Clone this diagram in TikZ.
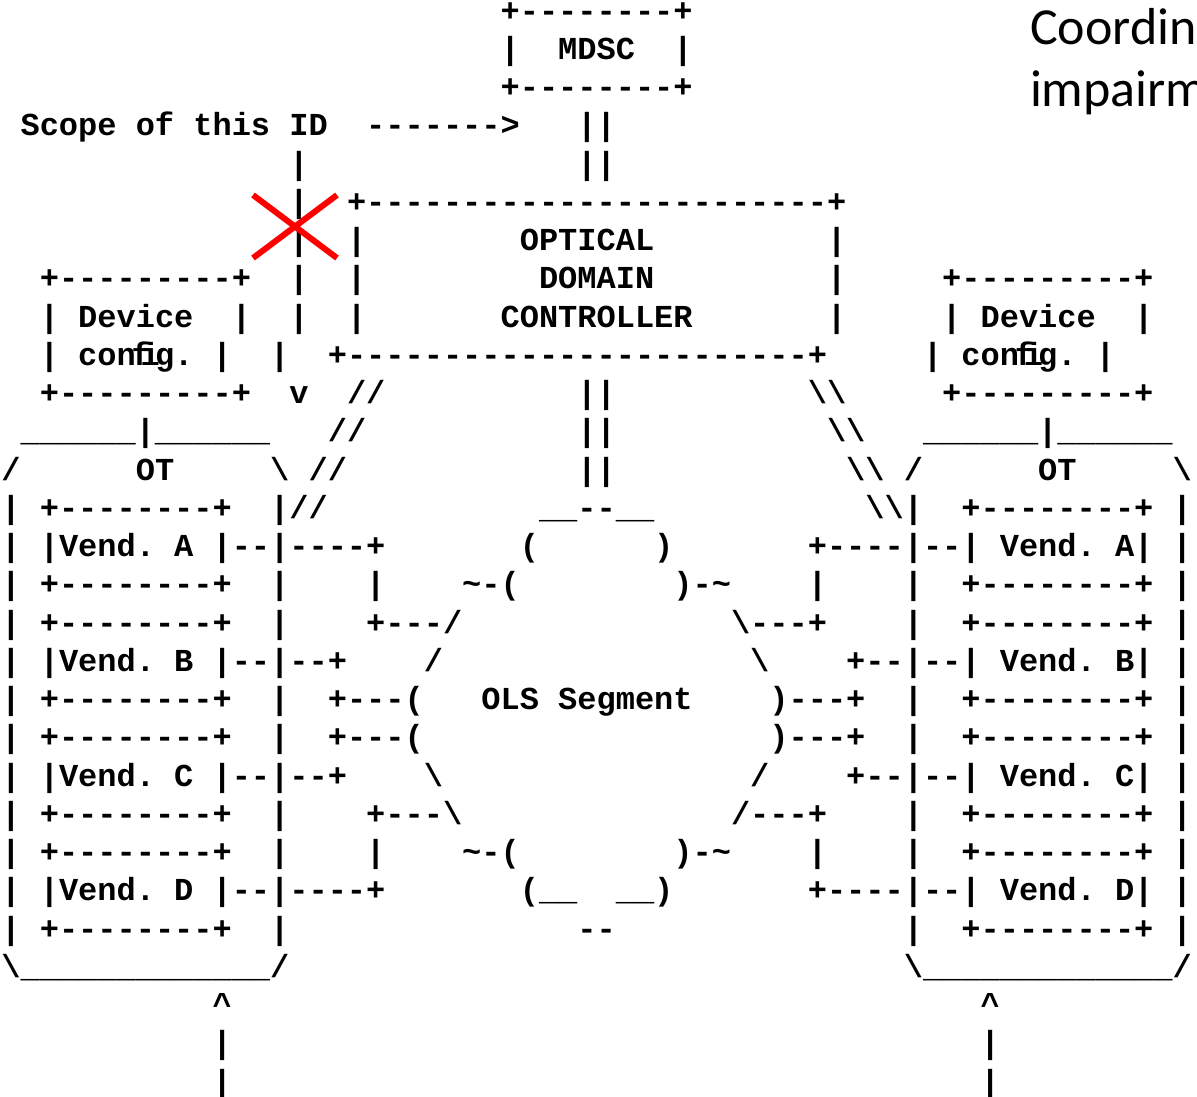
\documentclass[tikz,border=0pt]{standalone}
\usepackage{fontspec}
\setmonofont{Liberation Mono}
\newfontfamily\calib{Carlito}
\tikzset{
  asc/.style={anchor=base west, inner sep=0pt, outer sep=0pt,
    font=\ttfamily\bfseries\fontsize{32}{38}\selectfont\frenchspacing},
  slide/.style={anchor=base west, inner sep=0pt, outer sep=0pt,
    font=\calib\fontsize{52}{62}\selectfont},
  cross/.style={draw=red, line width=6pt}
}
\newcommand\asc[3]{\node[asc] (r#2c#1) at ({1.4+19.2*#1},{21+38.25*#2}) {#3};}
\newcommand\bsl{\textbackslash}
\newcommand\tld{\textasciitilde}
\newcommand\ulin{\_\_\_\_\_\_\_\_\_\_\_\_\_}
\begin{document}
\begin{tikzpicture}[x=1pt,y=-1pt]
\useasboundingbox (0,0) rectangle (1197,1096);
\fill[white] (0,0) rectangle (1197,1096);
% slide text
\node[slide] (t1) at (1030,44) {Coordin};
\node[slide] (t2) at (1030,106) {impairm};
% ascii art
\asc{26}{0}{+--------+}
\asc{26}{1}{|} \asc{29}{1}{MDSC} \asc{35}{1}{|}
\asc{26}{2}{+--------+}
\asc{1}{3}{Scope of this ID} \asc{19}{3}{------->} \asc{30}{3}{||}
\asc{15}{4}{|} \asc{30}{4}{||}
\asc{15}{5}{|} \asc{18}{5}{+------------------------+}
\asc{15}{6}{|} \asc{18}{6}{|} \asc{27}{6}{OPTICAL} \asc{43}{6}{|}
\asc{2}{7}{+---------+} \asc{15}{7}{|} \asc{18}{7}{|} \asc{28}{7}{DOMAIN} \asc{43}{7}{|} \asc{49}{7}{+---------+}
\asc{2}{8}{|} \asc{4}{8}{Device} \asc{12}{8}{|} \asc{15}{8}{|} \asc{18}{8}{|} \asc{26}{8}{CONTROLLER} \asc{43}{8}{|} \asc{49}{8}{|} \asc{51}{8}{Device} \asc{59}{8}{|}
% config lines (fi ligature takes one cell)
\asc{2}{9}{|} \asc{4}{9}{con}
\node[asc] (cfgLf) at ({1.4+19.2*6.78},{21+38.25*9}) {f};
\node[asc] (cfgLi) at ({1.4+19.2*7.25},{21+38.25*9}) {i};
\asc{8}{9}{g.} \asc{11}{9}{|} \asc{14}{9}{|} \asc{17}{9}{+------------------------+}
\asc{48}{9}{|} \asc{50}{9}{con}
\node[asc] (cfgRf) at ({1.4+19.2*52.78},{21+38.25*9}) {f};
\node[asc] (cfgRi) at ({1.4+19.2*53.25},{21+38.25*9}) {i};
\asc{54}{9}{g.} \asc{57}{9}{|}
\asc{2}{10}{+---------+} \asc{15}{10}{v} \asc{18}{10}{//} \asc{30}{10}{||} \asc{42}{10}{\bsl\bsl} \asc{49}{10}{+---------+}
\asc{1}{11}{\_\_\_\_\_\_|\_\_\_\_\_\_} \asc{17}{11}{//} \asc{30}{11}{||} \asc{43}{11}{\bsl\bsl} \asc{48}{11}{\_\_\_\_\_\_|\_\_\_\_\_\_}
\asc{0}{12}{/} \asc{7}{12}{OT} \asc{14}{12}{\bsl} \asc{16}{12}{//} \asc{30}{12}{||} \asc{44}{12}{\bsl\bsl} \asc{47}{12}{/} \asc{54}{12}{OT} \asc{61}{12}{\bsl}
\asc{0}{13}{|} \asc{2}{13}{+--------+} \asc{14}{13}{|//} \asc{28}{13}{\_\_--\_\_} \asc{45}{13}{\bsl\bsl|} \asc{50}{13}{+--------+} \asc{61}{13}{|}
\asc{0}{14}{|} \asc{2}{14}{|Vend. A |--|----+} \asc{27}{14}{(} \asc{34}{14}{)} \asc{42}{14}{+----|--| Vend. A|} \asc{61}{14}{|}
\asc{0}{15}{|} \asc{2}{15}{+--------+} \asc{14}{15}{|} \asc{19}{15}{|} \asc{24}{15}{\tld-(} \asc{35}{15}{)-\tld} \asc{42}{15}{|} \asc{47}{15}{|} \asc{50}{15}{+--------+} \asc{61}{15}{|}
\asc{0}{16}{|} \asc{2}{16}{+--------+} \asc{14}{16}{|} \asc{19}{16}{+---/} \asc{38}{16}{\bsl---+} \asc{47}{16}{|} \asc{50}{16}{+--------+} \asc{61}{16}{|}
\asc{0}{17}{|} \asc{2}{17}{|Vend. B |--|--+} \asc{22}{17}{/} \asc{39}{17}{\bsl} \asc{44}{17}{+--|--| Vend. B|} \asc{61}{17}{|}
\asc{0}{18}{|} \asc{2}{18}{+--------+} \asc{14}{18}{|} \asc{17}{18}{+---(} \asc{25}{18}{OLS Segment} \asc{40}{18}{)---+} \asc{47}{18}{|} \asc{50}{18}{+--------+} \asc{61}{18}{|}
\asc{0}{19}{|} \asc{2}{19}{+--------+} \asc{14}{19}{|} \asc{17}{19}{+---(} \asc{40}{19}{)---+} \asc{47}{19}{|} \asc{50}{19}{+--------+} \asc{61}{19}{|}
\asc{0}{20}{|} \asc{2}{20}{|Vend. C |--|--+} \asc{22}{20}{\bsl} \asc{39}{20}{/} \asc{44}{20}{+--|--| Vend. C|} \asc{61}{20}{|}
\asc{0}{21}{|} \asc{2}{21}{+--------+} \asc{14}{21}{|} \asc{19}{21}{+---\bsl} \asc{38}{21}{/---+} \asc{47}{21}{|} \asc{50}{21}{+--------+} \asc{61}{21}{|}
\asc{0}{22}{|} \asc{2}{22}{+--------+} \asc{14}{22}{|} \asc{19}{22}{|} \asc{24}{22}{\tld-(} \asc{35}{22}{)-\tld} \asc{42}{22}{|} \asc{47}{22}{|} \asc{50}{22}{+--------+} \asc{61}{22}{|}
\asc{0}{23}{|} \asc{2}{23}{|Vend. D |--|----+} \asc{27}{23}{(\_\_} \asc{32}{23}{\_\_)} \asc{42}{23}{+----|--| Vend. D|} \asc{61}{23}{|}
\asc{0}{24}{|} \asc{2}{24}{+--------+} \asc{14}{24}{|} \asc{30}{24}{--} \asc{47}{24}{|} \asc{50}{24}{+--------+} \asc{61}{24}{|}
\asc{0}{25}{\bsl\ulin/} \asc{47}{25}{\bsl\ulin/}
\asc{11}{26}{\textasciicircum} \asc{51}{26}{\textasciicircum}
\asc{11}{27}{|} \asc{51}{27}{|}
\asc{11}{28}{|} \asc{51}{28}{|}
% red cross
\coordinate (xa) at (253,195); \coordinate (xb) at (337,258);
\coordinate (xc) at (253,258); \coordinate (xd) at (337,195);
\draw[cross] (xa) -- (xb);
\draw[cross] (xc) -- (xd);
\end{tikzpicture}
\end{document}
